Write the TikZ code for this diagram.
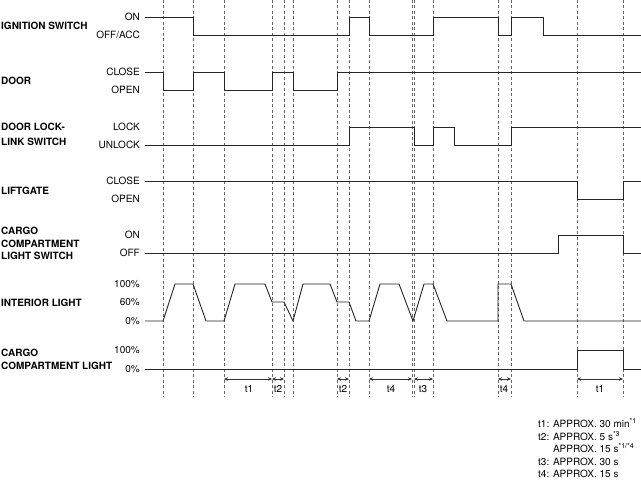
\documentclass[tikz,border=0pt]{standalone}
\usepackage{fontspec}
\setmainfont{TeX Gyre Heros}
\usetikzlibrary{arrows.meta}
\begin{document}
\begin{tikzpicture}[x=1pt,y=-1pt,
 sig/.style={line width=0.9pt, black!85, line join=miter},
 vgrid/.style={black!60, line width=0.5pt, dash pattern=on 3pt off 2.5pt},
 lvl/.style={anchor=east, inner sep=0pt, text height=7pt, text depth=0pt, font=\fontsize{10}{12}\selectfont},
 sname/.style={anchor=base west, inner sep=0pt, align=left, font=\fontsize{10}{12.5}\selectfont\bfseries},
 span/.style={{Stealth[length=4pt,width=3.5pt]}-{Stealth[length=4pt,width=3.5pt]}, line width=0.5pt, black!80},
 tlab/.style={inner sep=0pt, text height=7pt, text depth=0pt, font=\fontsize{10}{12}\selectfont},
 legline/.style={anchor=base west, inner sep=0pt, font=\fontsize{10}{12}\selectfont}
]
\useasboundingbox (0,0) rectangle (641,487);

% vertical dashed reference lines
\foreach \x in {163,193,224,272,284,293,337,349,369,412,414,433,498,511,577,623}
  \draw[vgrid] (\x,0) -- (\x,397);

% signal names (base = baseline of last line)
\node[sname] (nIgn) at (1,29.5) {IGNITION SWITCH};
\node[sname] (nDoor) at (1,84.5) {DOOR};
\node[sname] (nLock) at (1,145.8) {DOOR LOCK-\\[2.5pt]LINK SWITCH};
\node[sname] (nLift) at (1,194.3) {LIFTGATE};
\node[sname] (nCsw) at (1,259.5) {CARGO\\COMPARTMENT\\LIGHT SWITCH};
\node[sname] (nInt) at (1,306.3) {INTERIOR LIGHT};
\node[sname] (nClt) at (1,369.6) {CARGO\\[0.5pt]COMPARTMENT LIGHT};

% level labels
\node[lvl] (l1) at (140,17) {ON};
\node[lvl] (l2) at (140,35) {OFF/ACC};
\node[lvl] (l3) at (140,72) {CLOSE};
\node[lvl] (l4) at (140,90) {OPEN};
\node[lvl] (l5) at (140,127) {LOCK};
\node[lvl] (l6) at (140,145) {UNLOCK};
\node[lvl] (l7) at (140,181) {CLOSE};
\node[lvl] (l8) at (140,199) {OPEN};
\node[lvl] (l9) at (140,235) {ON};
\node[lvl] (l10) at (140,253) {OFF};
\node[lvl] (l11) at (140,284) {100\%};
\node[lvl] (l12) at (140,302) {60\%};
\node[lvl] (l13) at (140,321) {0\%};
\node[lvl] (l14) at (140,350) {100\%};
\node[lvl] (l15) at (140,369) {0\%};

% waveforms
\draw[sig] (145,17) -- (193,17) -- (193,35) -- (349,35) -- (349,17) -- (369,17) -- (369,35)
  -- (433,35) -- (433,17) -- (498,17) -- (498,35) -- (511,35) -- (511,17) -- (543,17)
  -- (543,35) -- (641,35);
\draw[sig] (145,72) -- (163,72) -- (163,90) -- (193,90) -- (193,72) -- (224,72) -- (224,90)
  -- (272,90) -- (272,72) -- (293,72) -- (293,90) -- (337,90) -- (337,72) -- (641,72);
\draw[sig] (145,145) -- (349,145) -- (349,127) -- (414,127) -- (414,145) -- (433,145)
  -- (433,127) -- (454,127) -- (454,145) -- (511,145) -- (511,127) -- (641,127);
\draw[sig] (145,181) -- (577,181) -- (577,199) -- (623,199) -- (623,181) -- (641,181);
\draw[sig] (145,253) -- (558,253) -- (558,235) -- (623,235) -- (623,253) -- (641,253);
\draw[sig] (145,321) -- (163,321) -- (175,284) -- (193,284) -- (206,321) -- (224,321)
  -- (235,284) -- (265,284) -- (272,302) -- (284,302) -- (293,321) -- (303,284)
  -- (330,284) -- (337,302) -- (349,302) -- (356,321) -- (369,321) -- (380,284)
  -- (399,284) -- (413,321) -- (424,284) -- (433,284) -- (447,321) -- (498,321)
  -- (498,284) -- (511,284) -- (524,321) -- (641,321);
\draw[sig] (145,369) -- (577,369) -- (577,350) -- (623,350) -- (623,369) -- (641,369);

% time spans
\draw[span] (224,379) -- (272,379);
\draw[span] (272,379) -- (284,379);
\draw[span] (337,379) -- (349,379);
\draw[span] (369,379) -- (412,379);
\draw[span] (414,379) -- (433,379);
\draw[span] (498,379) -- (511,379);
\draw[span] (577,379) -- (623,379);
\node[tlab] (s1) at (249,389) {t1};
\node[tlab] (s2) at (278,389) {t2};
\node[tlab] (s3) at (343,389) {t2};
\node[tlab] (s4) at (391,389) {t4};
\node[tlab] (s5) at (423,389) {t3};
\node[tlab] (s6) at (504,389) {t4};
\node[tlab] (s7) at (600,389) {t1};

% legend
\node[legline] (leg1) at (538,427.6) {t1: APPROX. 30 min\textsuperscript{*1}};
\node[legline] (leg2) at (538,440.1) {t2: APPROX. 5 s\textsuperscript{*3}};
\node[legline] (leg3) at (538,452.6) {\phantom{t2: }APPROX. 15 s\textsuperscript{*1/*4}};
\node[legline] (leg4) at (538,465.1) {t3: APPROX. 30 s};
\node[legline] (leg5) at (538,477.6) {t4: APPROX. 15 s};
\end{tikzpicture}
\end{document}
